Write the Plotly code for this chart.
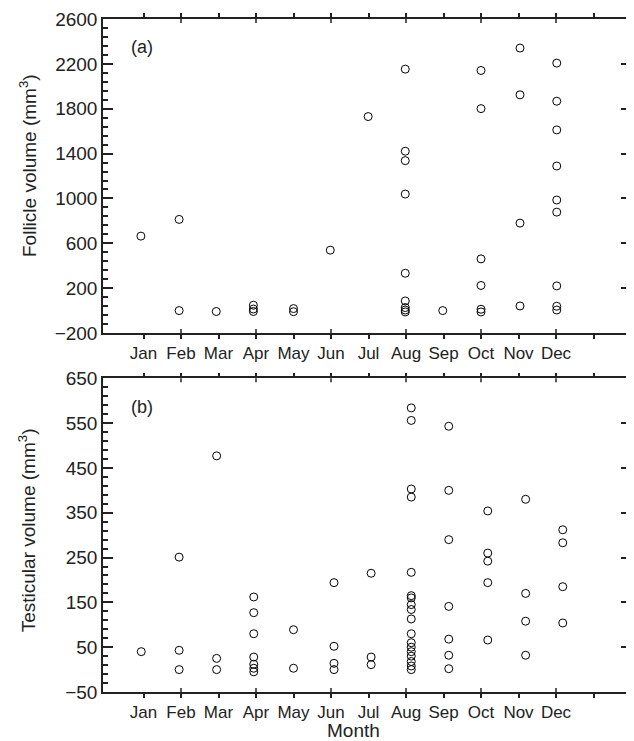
import plotly.graph_objects as go

# ---- data ----
month_labels = ["Jan", "Feb", "Mar", "Apr", "May", "Jun", "Jul", "Aug", "Sep", "Oct", "Nov", "Dec", " "]
month_ticks = [1, 2, 3, 4, 5, 6, 7, 8, 9, 10, 11, 12, 13]
inner_ticks = [2, 4, 6, 8, 10, 12]

# (a) follicle volume (mm3), x = sampling position in months
follicle_month = [0.93,
                  1.95, 1.95,
                  2.94,
                  3.93, 3.93, 3.93,
                  5.0, 5.0,
                  5.98,
                  6.99,
                  7.98, 7.98, 7.98, 7.98, 7.98, 7.98, 7.98, 7.98, 7.98,
                  8.98,
                  10.0, 10.0, 10.0, 10.0, 10.0, 10.0,
                  11.04, 11.04, 11.04, 11.04,
                  12.02, 12.02, 12.02, 12.02, 12.02, 12.02, 12.02, 12.02, 12.02]
follicle_volume = [664,
                   813, 0,
                   -8,
                   48, 14, -8,
                   18, -10,
                   539,
                   1730,
                   2153, 1421, 1337, 1039, 333, 86, 27, 5, -12,
                   0,
                   2141, 1801, 461, 224, 12, -12,
                   2341, 1924, 780, 41,
                   2207, 1867, 1611, 1289, 986, 878, 220, 39, 5]

# (b) testicular volume (mm3)
testis_month = [0.94,
                1.95, 1.95, 1.95,
                2.95, 2.95, 2.95,
                3.94, 3.94, 3.94, 3.94, 3.94, 3.94, 3.94,
                5.0, 5.0,
                6.08, 6.08, 6.08, 6.08,
                7.07, 7.07, 7.07,
                8.14, 8.14, 8.14, 8.14, 8.14, 8.14, 8.14, 8.14, 8.14, 8.14, 8.14, 8.14, 8.14, 8.14, 8.14,
                8.14, 8.14, 8.14,
                9.14, 9.14, 9.14, 9.14, 9.14, 9.14, 9.14,
                10.18, 10.18, 10.18, 10.18, 10.18,
                11.19, 11.19, 11.19, 11.19,
                12.18, 12.18, 12.18, 12.18]
testis_volume = [40,
                 251, 43, 0,
                 477, 25, 0,
                 162, 127, 80, 28, 12, 3, -5,
                 89, 3,
                 194, 52, 14, 0,
                 215, 28, 11,
                 584, 556, 403, 385, 217, 165, 160, 145, 134, 113, 80, 60, 50, 40, 30,
                 18, 8, 0,
                 543, 400, 290, 141, 68, 32, 2,
                 354, 260, 242, 194, 66,
                 380, 170, 108, 32,
                 312, 283, 185, 104]

# ---- style ----
FONT = "Liberation Sans, Arial, Helvetica, sans-serif"
INK = "#222222"
LINE = "#222222"
LW = 1.5
XRANGE = [-0.08, 14.0]

marker = dict(symbol="circle-open", size=8, color="black", line=dict(width=1, color="black"))

fig = go.Figure()
fig.add_trace(go.Scatter(x=follicle_month, y=follicle_volume, mode="markers",
                         marker=marker, xaxis="x", yaxis="y", showlegend=False,
                         cliponaxis=False))
fig.add_trace(go.Scatter(x=testis_month, y=testis_volume, mode="markers",
                         marker=marker, xaxis="x2", yaxis="y2", showlegend=False,
                         cliponaxis=False))

def xaxis_main(anchor):
    return dict(domain=[0, 1], anchor=anchor, range=XRANGE, tickmode="array",
                tickvals=month_ticks, ticktext=month_labels, ticks="outside",
                ticklen=4, tickwidth=LW, tickcolor=LINE, showline=True,
                linecolor=LINE, linewidth=LW, mirror="allticks", showgrid=False,
                zeroline=False, tickfont=dict(family=FONT, size=17, color=INK))

def yaxis(domain, anchor, rng, tick0, dtick, minor_dtick):
    return dict(domain=domain, anchor=anchor, range=rng, tick0=tick0, dtick=dtick,
                ticks="inside", ticklen=10, tickwidth=LW, tickcolor=LINE,
                minor=dict(dtick=minor_dtick, tick0=tick0, ticks="inside",
                           ticklen=5, tickwidth=LW, tickcolor=LINE, showgrid=False),
                showline=True, linecolor=LINE, linewidth=LW, mirror="allticks",
                showgrid=False, zeroline=False,
                tickfont=dict(family=FONT, size=19, color=INK))

# inward tick marks at every second month (top and bottom edge of both panels)
shapes = []
for xa, ya in (("x", "y"), ("x2", "y2")):
    for m in inner_ticks:
        for anchor, y0, y1 in ((0, 0, 4), (1, -4, 0)):
            shapes.append(dict(type="line", xref=xa, yref=ya + " domain",
                               x0=m, x1=m, ysizemode="pixel", yanchor=anchor,
                               y0=y0, y1=y1, line=dict(color=LINE, width=LW)))

# the page body adds an 8px offset, so the figure is sized 8px smaller
fig.update_layout(
    width=626, height=733,
    margin=dict(l=95, r=1, t=11, b=49),
    paper_bgcolor="white", plot_bgcolor="white",
    xaxis=xaxis_main("y"),
    yaxis=yaxis([0.5334, 1.0], "x", [-200, 2600], -200, 400, 80),
    xaxis2=xaxis_main("y2"),
    yaxis2=yaxis([0.0, 0.4661], "x2", [-50, 650], -50, 100, 20),
    shapes=shapes,
    annotations=[
        dict(text="(a)", xref="paper", yref="paper", x=0.0745, y=0.959,
             xanchor="center", yanchor="middle", showarrow=False,
             font=dict(family=FONT, size=18, color=INK)),
        dict(text="(b)", xref="paper", yref="paper", x=0.0745, y=0.4242,
             xanchor="center", yanchor="middle", showarrow=False,
             font=dict(family=FONT, size=18, color=INK)),
        dict(text="Follicle volume (mm<sup>3</sup>)", xref="paper", yref="paper",
             x=-0.1434, y=0.782, xanchor="center", yanchor="middle", textangle=-90,
             showarrow=False, font=dict(family=FONT, size=19, color=INK)),
        dict(text="Testicular volume (mm<sup>3</sup>)", xref="paper", yref="paper",
             x=-0.1434, y=0.2407, xanchor="center", yanchor="middle", textangle=-90,
             showarrow=False, font=dict(family=FONT, size=19, color=INK)),
        dict(text="Month", xref="paper", yref="paper", x=0.4745, y=-0.0575,
             xanchor="center", yanchor="middle", showarrow=False,
             font=dict(family=FONT, size=19, color=INK)),
    ],
)

fig.write_html("out.html")
